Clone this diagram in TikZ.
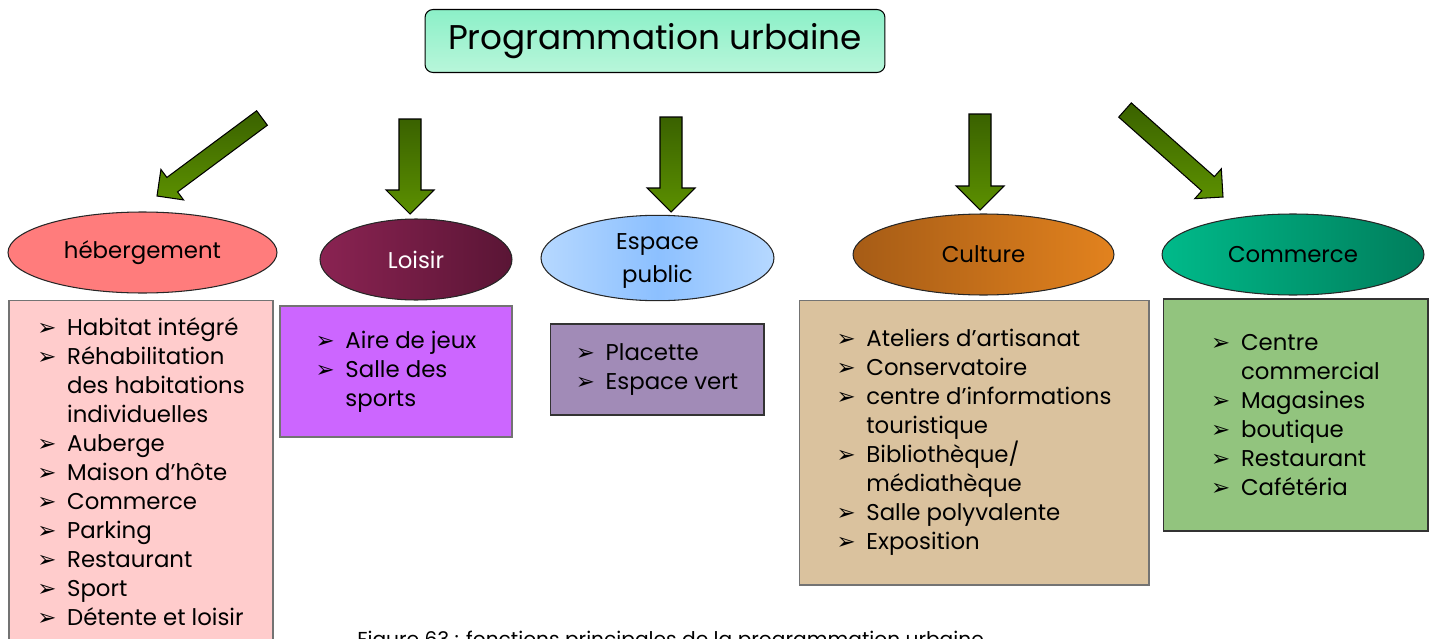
\documentclass[tikz,border=0pt]{standalone}
\usepackage{fontspec}
\setmainfont{Poppins}
\newfontfamily\symfont{DejaVu Sans}
\usetikzlibrary{shapes.geometric, positioning, calc}
\definecolor{titretop}{RGB}{140,240,200}
\definecolor{titrebot}{RGB}{184,246,218}
\definecolor{arrdark}{RGB}{58,98,0}
\definecolor{arrlight}{RGB}{92,144,0}
\definecolor{hebell}{RGB}{255,124,124}
\definecolor{loisl}{RGB}{138,35,82}
\definecolor{loisr}{RGB}{90,21,53}
\definecolor{espout}{RGB}{182,216,255}
\definecolor{espin}{RGB}{140,192,255}
\definecolor{cultl}{RGB}{166,92,22}
\definecolor{cultr}{RGB}{226,130,30}
\definecolor{comml}{RGB}{0,186,138}
\definecolor{commr}{RGB}{0,126,92}
\definecolor{hebbox}{RGB}{255,204,204}
\definecolor{loisbox}{RGB}{204,102,255}
\definecolor{espbox}{RGB}{161,139,183}
\definecolor{cultbox}{RGB}{218,194,158}
\definecolor{commbox}{RGB}{146,196,126}

\newcommand{\itm}[1]{\makebox[17pt][l]{\symfont\fontsize{13}{13}\selectfont ➢}#1}
\newcommand{\suite}[1]{\hspace*{17pt}#1}

\begin{document}
\begin{tikzpicture}[x=0.02cm, y=-0.02cm,
      pole/.style={ellipse, draw=black!85, line width=0.6pt, inner sep=0pt,
                   minimum height=1.62cm, font=\fontsize{13}{18.5}\selectfont, align=center},
      liste/.style={rectangle, draw=black!55, line width=0.6pt, inner sep=0pt,
                    font=\fontsize{13}{16.5}\selectfont, align=left},
      blockarr/.style 2 args={draw=black, line width=0.6pt, top color=arrdark, bottom color=arrlight,
                    to path={let \p1=($(\tikztotarget)!#2!(\tikztostart)$) in
                      ($(\tikztostart)!#1!-90:(\tikztotarget)$) -- ($(\p1)!#1!-90:(\tikztotarget)$)
                      -- ($(\p1)!#2!-90:(\tikztotarget)$) -- (\tikztotarget)
                      -- ($(\p1)!#2!90:(\tikztotarget)$) -- ($(\p1)!#1!90:(\tikztotarget)$)
                      -- ($(\tikztostart)!#1!90:(\tikztotarget)$) -- cycle}}
    ]
    \useasboundingbox (0,0) rectangle (1437,639);
    \clip (0,0) rectangle (1437,639);

    % titre
    \node[rectangle, rounded corners=0.16cm, draw=black, line width=0.6pt,
          top color=titretop, bottom color=titrebot,
          minimum width=9.2cm, minimum height=1.26cm,
          font=\fontsize{19.5}{23}\selectfont] (titre) at (655,41) {Programmation urbaine};

    % les cinq poles
    \node[pole, fill=hebell, minimum width=5.38cm] (heb) at (142.5,252.5) {hébergement};
    \node[pole, left color=loisl, right color=loisr, minimum width=3.84cm, text=white] (lois) at (416,259.5) {Loisir};
    \node[pole, left color=espout, right color=espout, middle color=espin, minimum width=4.66cm,
          minimum height=1.64cm] (esp) at (657.5,258) {\\[-6pt]Espace\\public};
    \node[pole, left color=cultl, right color=cultr, minimum width=5.22cm] (cult) at (983.5,254.5) {Culture};
    \node[pole, left color=comml, right color=commr, minimum width=5.24cm] (comm) at (1293,254.5) {Commerce};

    % fleches
    \coordinate (q1) at (262,118);  \coordinate (p1) at (157,196);
    \coordinate (q2) at (410,119);  \coordinate (p2) at (410,214);
    \coordinate (q3) at (671,117);  \coordinate (p3) at (671,212);
    \coordinate (q4) at (980,114);  \coordinate (p4) at (980,210);
    \coordinate (q5) at (1125,110); \coordinate (p5) at (1223,197);
    \draw[blockarr={0.18cm}{0.38cm}] (q1) to (p1);
    \draw[blockarr={0.22cm}{0.48cm}] (q2) to (p2);
    \draw[blockarr={0.22cm}{0.48cm}] (q3) to (p3);
    \draw[blockarr={0.22cm}{0.48cm}] (q4) to (p4);
    \draw[blockarr={0.19cm}{0.40cm}] (q5) to (p5);

    % listes
    \node[liste, fill=hebbox, minimum width=5.28cm, minimum height=6.88cm] (lheb) at (141,472)
      {\itm{Habitat intégré}\\ \itm{Réhabilitation}\\ \suite{des habitations}\\ \suite{individuelles}\\
       \itm{Auberge}\\ \itm{Maison d’hôte}\\ \itm{Commerce}\\ \itm{Parking}\\
       \itm{Restaurant}\\ \itm{Sport}\\ \itm{Détente et loisir}};
    \node[liste, fill=loisbox, minimum width=4.64cm, minimum height=2.62cm] (llois) at (396,371.5)
      {\itm{Aire de jeux}\\ \itm{Salle des}\\ \suite{sports}};
    \node[liste, fill=espbox, draw=black!80, minimum width=4.28cm, minimum height=1.82cm] (lesp) at (657,369.5)
      {\itm{Placette}\\ \itm{Espace vert}};
    \node[liste, fill=cultbox, minimum width=7.0cm, minimum height=5.7cm] (lcult) at (974,442.5)
      {\itm{Ateliers d’artisanat}\\ \itm{Conservatoire}\\ \itm{centre d'informations}\\ \suite{touristique}\\
       \itm{Bibliothèque/}\\ \suite{médiathèque}\\ \itm{Salle polyvalente}\\ \itm{Exposition}};
    \node[liste, fill=commbox, draw=black!80, minimum width=5.3cm, minimum height=4.64cm] (lcomm) at (1295.5,415)
      {\itm{Centre}\\ \suite{commercial}\\ \itm{Magasines}\\ \itm{boutique}\\ \itm{Restaurant}\\ \itm{Cafétéria}};

    % legende (coupee en bas)
    \node[anchor=base west, inner sep=0pt, font=\fontsize{11.5}{13}\selectfont] (legende) at (357,646)
      {Figure 63 : fonctions principales de la programmation urbaine};
  \end{tikzpicture}
\end{document}
